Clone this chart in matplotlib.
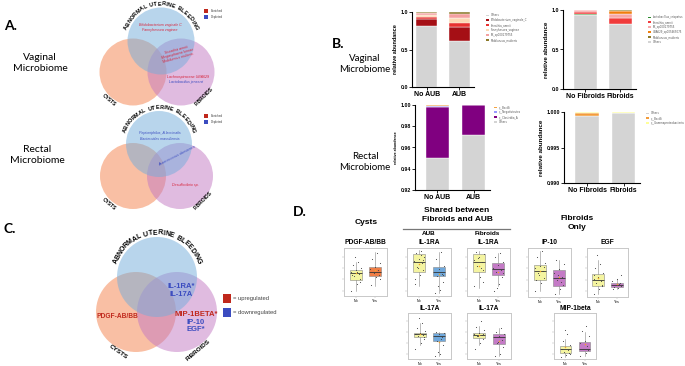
import numpy as np
import matplotlib
matplotlib.use("Agg")
import matplotlib.pyplot as plt
from matplotlib.patches import Circle, Rectangle, Patch

# ---------------- data ----------------
# Panel B: stacked relative abundance
vag_aub_groups = ["No AUB", "AUB"]
vag_aub_taxa = ["Others", "Bifidobacterium_vaginale_C", "Sneathia_amnii",
                "Fannyhessea_vaginae", "SK_sp000179755", "Mobiluncus_mulieris"]
vag_aub_values = [[0.82, 0.62], [0.09, 0.18], [0.02, 0.06],
                  [0.03, 0.06], [0.03, 0.06], [0.01, 0.02]]
vag_aub_colors = ["#d4d4d4", "#a50f15", "#e8312f", "#fdd9b5", "#f4a0a0", "#8c7a2a"]

vag_fib_groups = ["No Fibroids", "Fibroids"]
vag_fib_taxa = ["Others", "Lactobacillus_crispatus", "Sneathia_amnii",
                "SK_sp000179755", "UBA629_sp005465075", "Mobiluncus_mulieris"]
vag_fib_values = [[0.94, 0.82], [0.015, 0.003], [0.02, 0.07],
                  [0.02, 0.06], [0.003, 0.04], [0.002, 0.007]]
vag_fib_colors = ["#d4d4d4", "#2e8b2e", "#f03b3b", "#f7a8a8", "#f07d0d", "#8c7a2a"]

rec_aub_groups = ["No AUB", "AUB"]
rec_aub_taxa = ["Others", "c__Clostridia_A", "c__Negativicutes", "c__Bacilli"]
rec_aub_values = [[0.950, 0.972], [0.0485, 0.0278], [0.001, 0.0001], [0.0005, 0.0001]]
rec_aub_colors = ["#d4d4d4", "#800080", "#9999ff", "#f4a442"]

rec_fib_groups = ["No Fibroids", "Fibroids"]
rec_fib_taxa = ["Others", "c__Bacilli", "c__Gammaproteobacteria"]
rec_fib_values = [[0.9994, 0.9998], [0.0004, 0.00002], [0.0002, 0.00018]]
rec_fib_colors = ["#d4d4d4", "#f39c3c", "#ffff99"]

# Panel D: box statistics (whislo, q1, median, q3, whishi), normalised scale
box_groups = ["No", "Yes"]
pdgf_stats = [[0.08, 0.33, 0.48, 0.56, 0.73], [0.20, 0.42, 0.52, 0.62, 0.95]]
il1ra_aub_stats = [[0.21, 0.52, 0.73, 0.90, 1.00], [0.05, 0.42, 0.50, 0.62, 0.95]]
il1ra_fib_stats = [[0.15, 0.50, 0.72, 0.90, 0.98], [0.20, 0.44, 0.58, 0.71, 0.92]]
ip10_stats = [[0.10, 0.35, 0.55, 0.67, 0.98], [0.05, 0.21, 0.40, 0.56, 0.78]]
egf_stats = [[0.05, 0.21, 0.35, 0.48, 0.78], [0.15, 0.19, 0.25, 0.29, 0.38]]
il17_aub_stats = [[0.30, 0.49, 0.55, 0.59, 0.80], [0.05, 0.39, 0.52, 0.57, 0.60]]
il17_fib_stats = [[0.30, 0.47, 0.53, 0.59, 0.75], [0.05, 0.33, 0.48, 0.55, 0.70]]
mip_stats = [[0.02, 0.12, 0.20, 0.27, 0.45], [0.05, 0.16, 0.22, 0.37, 0.60]]

pdgf_pts = [[0.10, 0.25, 0.35, 0.42, 0.47, 0.50, 0.55, 0.60, 0.66, 0.72, 0.85, 0.30, 0.45, 0.52],
            [0.22, 0.40, 0.45, 0.50, 0.55, 0.58, 0.62, 0.70, 0.80, 0.93, 0.48, 0.35]]
il1ra_aub_pts = [[0.25, 0.45, 0.55, 0.62, 0.70, 0.75, 0.80, 0.85, 0.92, 0.98, 0.60, 0.78, 0.35, 0.88],
                 [0.05, 0.12, 0.30, 0.42, 0.47, 0.52, 0.58, 0.65, 0.80, 0.95, 0.20, 0.45]]
il1ra_fib_pts = [[0.20, 0.40, 0.55, 0.65, 0.72, 0.78, 0.85, 0.90, 0.96, 0.60, 0.82, 0.30],
                 [0.10, 0.25, 0.40, 0.50, 0.55, 0.60, 0.66, 0.72, 0.85, 0.92, 0.15, 0.48]]
ip10_pts = [[0.10, 0.28, 0.40, 0.50, 0.55, 0.60, 0.65, 0.72, 0.85, 0.97, 0.45, 0.62, 0.35],
            [0.05, 0.15, 0.25, 0.35, 0.42, 0.50, 0.58, 0.70, 0.78, 0.30, 0.45]]
egf_pts = [[0.05, 0.15, 0.22, 0.28, 0.33, 0.38, 0.42, 0.50, 0.60, 0.70, 0.88, 0.25, 0.45],
           [0.15, 0.18, 0.22, 0.25, 0.28, 0.32, 0.38, 0.45, 0.20, 0.26]]
il17_aub_pts = [[0.20, 0.35, 0.45, 0.50, 0.53, 0.56, 0.58, 0.62, 0.70, 0.80, 0.92, 0.48, 0.55],
                [0.05, 0.10, 0.30, 0.40, 0.48, 0.52, 0.55, 0.58, 0.60, 0.45, 0.15]]
il17_fib_pts = [[0.20, 0.35, 0.45, 0.50, 0.53, 0.56, 0.58, 0.65, 0.72, 0.85, 0.50, 0.55],
                [0.05, 0.10, 0.25, 0.35, 0.42, 0.48, 0.52, 0.55, 0.60, 0.70, 0.38]]
mip_pts = [[0.02, 0.08, 0.12, 0.15, 0.18, 0.22, 0.25, 0.30, 0.40, 0.55, 0.65, 0.10, 0.20],
           [0.05, 0.12, 0.18, 0.22, 0.28, 0.35, 0.40, 0.50, 0.62, 0.75, 0.20]]

W, H = 685, 366
fig = plt.figure(figsize=(W / 100, H / 100), dpi=100)
bg = fig.add_axes([0, 0, 1, 1])
bg.set_xlim(0, W)
bg.set_ylim(H, 0)
bg.axis("off")

SANS = ["Liberation Sans", "DejaVu Sans"]
HEAD = ["Lato", "DejaVu Sans"]


def px_axes(x0, y0, x1, y1):
    return fig.add_axes([x0 / W, 1 - y1 / H, (x1 - x0) / W, (y1 - y0) / H])


def arc_text(text, cx, cy, R, a0, a1, fs):
    widths = [0.55 if c == " " else (1.25 if c in "MW" else (0.5 if c == "I" else 1.0)) for c in text]
    tot = sum(widths)
    cum = 0
    for c, w in zip(text, widths):
        frac = (cum + w / 2) / tot
        cum += w
        th = np.deg2rad(a0 + (a1 - a0) * frac)
        x = cx + R * np.cos(th)
        y = cy - R * np.sin(th)
        bg.text(x, y, c, rotation=np.rad2deg(th) - 90, ha="center", va="center",
                fontsize=fs, fontweight="bold", family=SANS, rotation_mode="anchor")


BLUE = (0.45, 0.68, 0.86)
ORANGE = (0.96, 0.55, 0.35)
PURPLE = (0.76, 0.47, 0.76)


def venn(aub, cys, fib, r, arc_r, arc_fs, lab_fs, cyst_pos, fib_pos, rot=40):
    bg.add_patch(Circle(cys, r, facecolor=ORANGE, alpha=0.55, lw=0))
    bg.add_patch(Circle(fib, r, facecolor=PURPLE, alpha=0.5, lw=0))
    bg.add_patch(Circle(aub, r, facecolor=BLUE, alpha=0.5, lw=0))
    arc_text("ABNORMAL UTERINE BLEEDING", aub[0], aub[1], arc_r, 162, 18, arc_fs)
    bg.text(*cyst_pos, "CYSTS", rotation=-rot, ha="center", va="center",
            fontsize=lab_fs, fontweight="bold", family=SANS)
    bg.text(*fib_pos, "FIBROIDS", rotation=rot + 5, ha="center", va="center",
            fontsize=lab_fs, fontweight="bold", family=SANS)


RED_T = "#d7263d"
BLUE_T = "#3b4cc0"

# ---------------- Panel A ----------------
bg.text(4, 26, "A.", fontsize=10, fontweight="bold", family=HEAD, va="center")
bg.text(40, 63, "Vaginal\nMicrobiome", fontsize=7.5, family=HEAD, ha="center", va="center",
        linespacing=1.3)
bg.text(37, 155, "Rectal\nMicrobiome", fontsize=7.5, family=HEAD, ha="center", va="center",
        linespacing=1.3)

venn((161, 41), (133, 72), (181, 72), 33.5, 37, 4.0, 3.6, (109, 100), (204, 96))
bg.text(160, 25, "Bifidobacterium vaginale C", color=RED_T, fontsize=2.6, style="italic",
        ha="center", va="center", family=SANS)
bg.text(160, 30, "Fannyhessea vaginae", color=RED_T, fontsize=2.6, style="italic",
        ha="center", va="center", family=SANS)
bg.text(177, 54, "Sneathia amnii\nMegasphaera lornae\nMobiluncus mulieris", color=RED_T,
        fontsize=2.6, style="italic", ha="center", va="center", rotation=15,
        family=SANS, linespacing=1.1)
bg.text(188, 77, "Lachnospiraceae UBA629", color=RED_T, fontsize=2.6, style="italic",
        ha="center", va="center", family=SANS)
bg.text(186, 82, "Lactobacillus jensenii", color=BLUE_T, fontsize=2.6, style="italic",
        ha="center", va="center", family=SANS)

venn((159, 144), (133, 176), (180, 176), 33, 36.5, 4.0, 3.6, (109, 204), (203, 200))
bg.text(160, 133, "Peptoniphilus_A lacrimalis", color=BLUE_T, fontsize=2.6, style="italic",
        ha="center", va="center", family=SANS)
bg.text(160, 138.5, "Bacteroides massiliensis", color=BLUE_T, fontsize=2.6, style="italic",
        ha="center", va="center", family=SANS)
bg.text(177, 156, "Anaerococcus obesiensis", color=BLUE_T, fontsize=2.6, style="italic",
        ha="center", va="center", rotation=27, family=SANS)
bg.text(185, 185, "Desulfovibrio sp.", color=RED_T, fontsize=2.6, style="italic",
        ha="center", va="center", family=SANS)

for ly in (11, 116):
    bg.add_patch(Rectangle((204, ly - 2), 4, 4, facecolor="#c0281c", lw=0))
    bg.add_patch(Rectangle((204, ly + 4), 4, 4, facecolor="#3b4cc0", lw=0))
    bg.text(210.5, ly, "Enriched", fontsize=2.2, va="center", family=SANS, color="#444444")
    bg.text(210.5, ly + 6, "Depleted", fontsize=2.2, va="center", family=SANS, color="#444444")

# ---------------- Panel C ----------------
bg.text(4, 229, "C.", fontsize=10, fontweight="bold", family=HEAD, va="center")
venn((157, 277), (136, 312), (177, 312), 40, 44, 5.0, 4.6, (118, 352), (198, 350), rot=35)
bg.text(181, 286, "IL-1RA*", color=BLUE_T, fontsize=5.5, fontweight="bold", ha="center",
        va="center", family=SANS)
bg.text(181, 294, "IL-17A", color=BLUE_T, fontsize=5.5, fontweight="bold", ha="center",
        va="center", family=SANS)
bg.text(117, 316, "PDGF-AB/BB", color="#c0281c", fontsize=4.8, fontweight="bold", ha="center",
        va="center", family=SANS)
bg.text(196, 315, "MIP-1BETA*", color="#c0281c", fontsize=5.5, fontweight="bold", ha="center",
        va="center", family=SANS)
bg.text(196, 322, "IP-10", color=BLUE_T, fontsize=5.5, fontweight="bold", ha="center",
        va="center", family=SANS)
bg.text(196, 329.5, "EGF*", color=BLUE_T, fontsize=5.5, fontweight="bold", ha="center",
        va="center", family=SANS)
bg.add_patch(Rectangle((223, 294), 8.5, 8.5, facecolor="#c0281c", lw=0))
bg.add_patch(Rectangle((223, 308), 8.5, 8.5, facecolor="#3b4cc0", lw=0))
bg.text(233, 298.5, "= upregulated", fontsize=4.2, va="center", family=SANS, color="#444444")
bg.text(233, 312.5, "= downregulated", fontsize=4.2, va="center", family=SANS, color="#444444")

# ---------------- Panel B ----------------
bg.text(332, 44, "B.", fontsize=10, fontweight="bold", family=HEAD, va="center")
bg.text(365, 64, "Vaginal\nMicrobiome", fontsize=7, family=HEAD, ha="center", va="center",
        linespacing=1.3)
bg.text(365, 162, "Rectal\nMicrobiome", fontsize=7, family=HEAD, ha="center", va="center",
        linespacing=1.3)


def stacked(rect, groups, taxa, values, colors, ylim, yticks, yfmt, xl, ylab_fs,
            leg_xy, leg_order):
    ax = px_axes(*rect)
    x = np.arange(len(groups))
    bottom = np.zeros(len(groups))
    handles = {}
    for t, v, c in zip(taxa, values, colors):
        ax.bar(x, v, bottom=bottom, width=0.65, color=c, edgecolor="white", linewidth=0.3)
        bottom = bottom + np.array(v)
        handles[t] = Patch(facecolor=c, label=t)
    ax.set_xlim(*xl)
    ax.set_ylim(*ylim)
    ax.set_yticks(yticks)
    ax.set_yticklabels([yfmt.format(t) for t in yticks], fontsize=3.8, fontweight="bold",
                       family=SANS)
    ax.set_xticks(x)
    ax.set_xticklabels(groups, fontsize=5, fontweight="bold", family=SANS)
    ax.set_ylabel("relative abundance", fontsize=ylab_fs, fontweight="bold", family=SANS,
                  labelpad=1.5)
    for s in ("top", "right"):
        ax.spines[s].set_visible(False)
    for s in ("left", "bottom"):
        ax.spines[s].set_linewidth(0.8)
    ax.tick_params(axis="both", length=2, width=0.6, pad=1)
    hs = [handles[t] for t in leg_order]
    fig.legend(handles=hs, loc="upper left", bbox_to_anchor=(leg_xy[0] / W, 1 - leg_xy[1] / H),
               fontsize=1.9, frameon=False, handlelength=1.2, handleheight=0.6,
               labelspacing=0.35, borderpad=0, handletextpad=0.6, labelcolor="#555555")
    return ax


stacked((412, 12, 474, 87), vag_aub_groups, vag_aub_taxa, vag_aub_values, vag_aub_colors,
        (0, 1.0), [0.0, 0.5, 1.0], "{:.1f}", (-0.45, 1.45), 4.0, (485, 12),
        vag_aub_taxa)
stacked((563, 10, 636, 89), vag_fib_groups, vag_fib_taxa, vag_fib_values, vag_fib_colors,
        (0, 1.0), [0.0, 0.5, 1.0], "{:.1f}", (-0.64, 1.45), 4.5, (647, 14),
        vag_fib_taxa[1:] + ["Others"])
stacked((415, 105, 490, 190), rec_aub_groups, rec_aub_taxa, rec_aub_values, rec_aub_colors,
        (0.92, 1.0), [0.92, 0.94, 0.96, 0.98, 1.00], "{:.2f}", (-0.62, 1.45), 2.6,
        (493, 104), rec_aub_taxa[::-1])
stacked((564, 112, 640, 183), rec_fib_groups, rec_fib_taxa, rec_fib_values, rec_fib_colors,
        (0.990, 1.0), [0.990, 0.995, 1.000], "{:.3f}", (-0.64, 1.45), 4.5, (645, 110),
        rec_fib_taxa)

# ---------------- Panel D ----------------
bg.text(293, 212, "D.", fontsize=10, fontweight="bold", family=HEAD, va="center")
bg.text(366, 223, "Cysts", fontsize=6, fontweight="bold", family=SANS, ha="center", va="center")
bg.text(457, 215, "Shared between\nFibroids and AUB", fontsize=6, fontweight="bold",
        family=SANS, ha="center", va="center", linespacing=1.3)
bg.plot([403, 510], [229, 229], color="#777777", lw=0.9)
bg.text(429, 233.5, "AUB", fontsize=4.6, fontweight="bold", family=SANS, ha="center", va="center")
bg.text(487, 233.5, "Fibroids", fontsize=4.6, fontweight="bold", family=SANS, ha="center",
        va="center")
bg.text(577, 223, "Fibroids\nOnly", fontsize=6, fontweight="bold", family=SANS, ha="center",
        va="center", linespacing=1.3)

YEL = "#f4f4a0"
JIT = [-0.22, 0.05, 0.2, -0.1, 0.15, -0.25, 0.0, 0.25, -0.15, 0.1, -0.05, 0.22, -0.2, 0.08]


def boxpanel(rect, title, stats, pts, ycol):
    ax = px_axes(*rect)
    bxs = []
    for s, lab in zip(stats, box_groups):
        bxs.append(dict(whislo=s[0], q1=s[1], med=s[2], q3=s[3], whishi=s[4], label=lab,
                        fliers=[]))
    res = ax.bxp(bxs, positions=[0, 1], widths=0.62, patch_artist=True, showfliers=False,
                 boxprops=dict(linewidth=0.4, edgecolor="#888888"),
                 medianprops=dict(color="#333333", linewidth=0.6),
                 whiskerprops=dict(color="#888888", linewidth=0.4),
                 capprops=dict(linewidth=0))
    for patch, c in zip(res["boxes"], [YEL, ycol]):
        patch.set_facecolor(c)
    for i, p in enumerate(pts):
        xs = [i + JIT[k % len(JIT)] for k in range(len(p))]
        ax.scatter(xs, p, s=0.6, color="#444444", lw=0, zorder=5)
        ax.scatter([i], [np.mean(p)], s=1.2, color="#f5a623", lw=0, zorder=6)
    ax.set_xlim(-0.6, 1.6)
    ax.set_ylim(-0.02, 1.04)
    ax.set_xticks([0, 1])
    ax.set_xticklabels(box_groups, fontsize=2.6, family=SANS)
    ax.set_yticks([0.1, 0.35, 0.6, 0.85])
    ax.set_yticklabels([])
    ax.tick_params(axis="both", length=1.2, width=0.3, color="#aaaaaa", pad=1.0)
    for s in ax.spines.values():
        s.set_color("#c8c8c8")
        s.set_linewidth(0.7)
    bg.text((rect[0] + rect[2]) / 2, rect[1] - 5, title, fontsize=4.8, fontweight="bold",
            family=SANS, ha="center", va="center")


ORG = "#ef7d45"
BLU = "#6fa8dc"
PUR = "#c47ac6"
boxpanel((344, 248, 387, 296), "PDGF-AB/BB", pdgf_stats, pdgf_pts, ORG)
boxpanel((407, 248, 451, 296), "IL-1RA", il1ra_aub_stats, il1ra_aub_pts, BLU)
boxpanel((467, 248, 510, 296), "IL-1RA", il1ra_fib_stats, il1ra_fib_pts, PUR)
boxpanel((528, 248, 571, 297), "IP-10", ip10_stats, ip10_pts, PUR)
boxpanel((587, 248, 628, 297), "EGF", egf_stats, egf_pts, PUR)
boxpanel((408, 313, 451, 359), "IL-17A", il17_aub_stats, il17_aub_pts, BLU)
boxpanel((467, 313, 511, 359), "IL-17A", il17_fib_stats, il17_fib_pts, PUR)
boxpanel((554, 313, 596, 359), "MIP-1beta", mip_stats, mip_pts, PUR)

fig.savefig("out.png", dpi=100)
